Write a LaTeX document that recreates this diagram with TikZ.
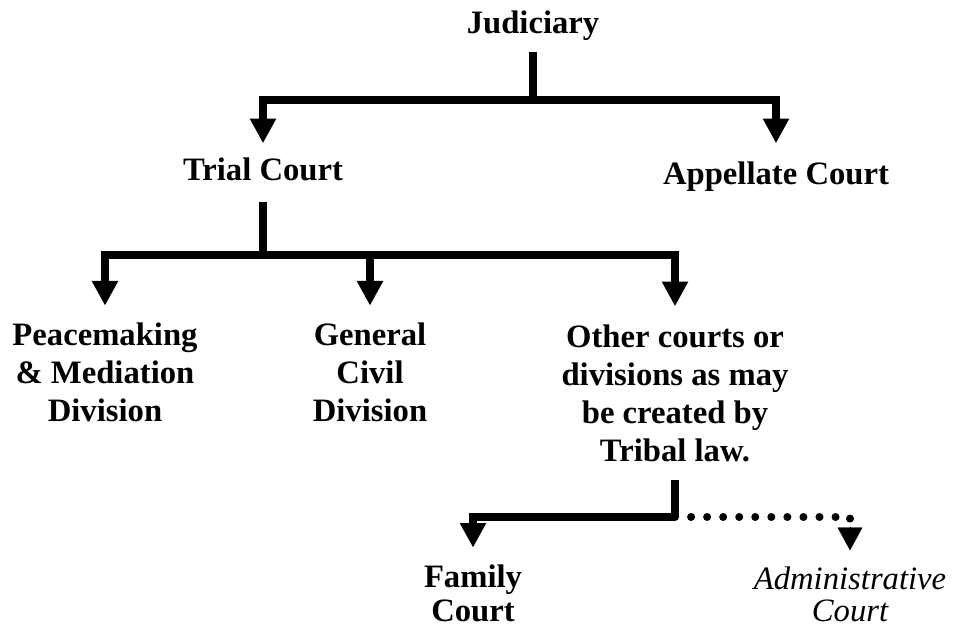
\documentclass[tikz,border=0pt]{standalone}
\usepackage{fontspec}
\setmainfont{Liberation Serif}
\usetikzlibrary{arrows.meta}
\begin{document}
\begin{tikzpicture}[x=0.75pt,y=-0.75pt,
  lbl/.style={font=\fontsize{24.5}{28.3}\selectfont\bfseries, align=center, inner sep=0pt, anchor=north},
  bar/.style={line width=5.6pt, line join=miter},
  conn/.style={bar, -{Triangle[width=18.5pt,length=18.5pt]}},
  dotline/.style={line width=6pt, line cap=round, dash pattern=on 0pt off 12.04pt},
  tiponly/.style={line width=0.1pt, -{Triangle[width=18.5pt,length=17pt]}}]
\useasboundingbox (0,0) rectangle (955,630);

% nodes
\node[lbl] (jud) at (533,11) {Judiciary};
\node[lbl] (trial) at (263,158) {Trial Court};
\node[lbl] (app) at (776,162) {Appellate Court};
\node[lbl] (peace) at (105,323) {Peacemaking\\\& Mediation\\Division};
\node[lbl] (gen) at (370,323) {General\\Civil\\Division};
\node[lbl] (other) at (675,325) {Other courts or\\divisions as may\\be created by\\Tribal law.};
\node[lbl, font=\fontsize{24.5}{25.5}\selectfont\bfseries] (fam) at (473,565) {Family\\Court};
\node[lbl, font=\fontsize{24.5}{24}\selectfont\itshape] (adm) at (850,567) {Administrative\\Court};

% junction points
\coordinate (j1) at (533,100);
\coordinate (t1) at (263,255);
\coordinate (o1) at (675,517);
\coordinate (a1) at (850,519);
\coordinate (a2) at (850,527);

% connectors
\draw[bar] (jud.south) ++(0,11) -- (j1);
\draw[conn, shorten >=11pt] (j1) -| (trial.north);
\draw[conn, shorten >=14pt] (j1) -| (app.north);

\draw[bar] (trial.south) ++(0,20) -- (t1);
\draw[conn, shorten >=13pt] (t1) -| (peace.north);
\draw[conn, shorten >=13pt] (t1) -| (gen.north);
\draw[conn, shorten >=14pt] (t1) -| (other.north);

\draw[bar] (other.south) ++(0,18) -- (o1);
\draw[conn, shorten >=13pt] (o1) -| (fam.north);
\draw[dotline] (o1) -| (a1);
\draw[tiponly, shorten >=12.5pt] (a2) -- (adm.north);
\end{tikzpicture}
\end{document}
